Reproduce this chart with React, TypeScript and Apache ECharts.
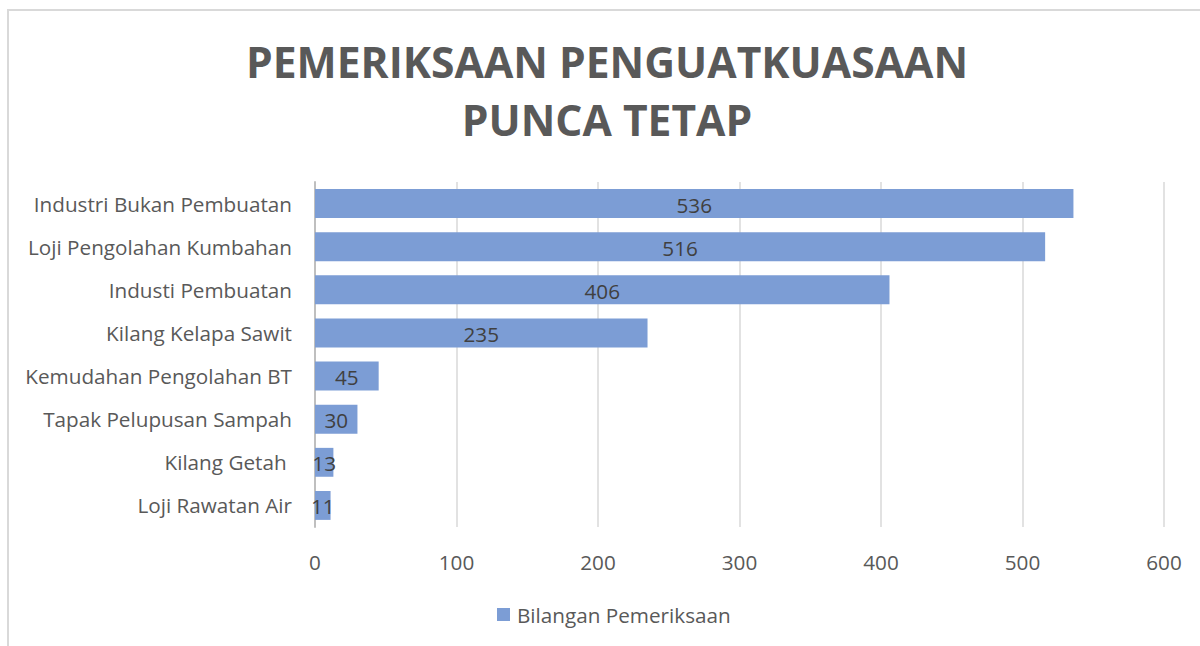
import React, { useEffect, useRef } from "react";
import * as echarts from "echarts";

const categories = [
  "Industri Bukan Pembuatan",
  "Loji Pengolahan Kumbahan",
  "Industi Pembuatan",
  "Kilang Kelapa Sawit",
  "Kemudahan Pengolahan BT",
  "Tapak Pelupusan Sampah",
  "Kilang Getah ",
  "Loji Rawatan Air",
];
const values = [536, 516, 406, 235, 45, 30, 13, 11];
const seriesName = "Bilangan Pemeriksaan";
const titleText = "PEMERIKSAAN PENGUATKUASAAN\nPUNCA TETAP";

const FONT = "'Open Sans', 'Noto Sans', sans-serif";

export default function App() {
  const ref = useRef<HTMLDivElement>(null);
  useEffect(() => {
    if (!ref.current) return;
    const chart = echarts.init(ref.current, null, { renderer: "svg" });
    chart.setOption({
      animation: false,
      backgroundColor: "#ffffff",
      title: {
        text: titleText,
        left: 602,
        textAlign: "center",
        top: 27,
        textStyle: {
          fontFamily: FONT,
          fontSize: 42.6,
          fontWeight: "bold",
          color: "#595959",
          lineHeight: 58,
        },
      },
      legend: {
        data: [seriesName],
        bottom: 16,
        left: 492,
        itemWidth: 13,
        itemHeight: 13,
        icon: "rect",
        itemGap: 8,
        textStyle: { fontFamily: FONT, fontSize: 20.7, color: "#595959", padding: [0, 0, 0, 2] },
      },
      graphic: [
        {
          type: "rect",
          shape: { x: 8, y: 10, width: 1300, height: 700 },
          style: { fill: "none", stroke: "#d9d9d9", lineWidth: 2 },
          silent: true,
        },
      ],
      grid: { left: 315, right: 36, top: 182, bottom: 119 },
      xAxis: {
        type: "value",
        min: 0,
        max: 600,
        interval: 100,
        axisLine: { show: false },
        axisTick: { show: false },
        splitLine: { lineStyle: { color: "#d9d9d9", width: 1.5 } },
        axisLabel: { fontFamily: FONT, fontSize: 20.7, color: "#595959", margin: 24 },
      },
      yAxis: {
        type: "category",
        data: categories,
        inverse: true,
        axisLine: { show: true, lineStyle: { color: "#bfbfbf", width: 2 } },
        axisTick: { show: false },
        axisLabel: { fontFamily: FONT, fontSize: 20.7, color: "#595959", margin: 23 },
      },
      series: [
        {
          name: seriesName,
          type: "bar",
          data: values,
          barCategoryGap: "33%",
          itemStyle: { color: "#7C9DD5" },
          label: {
            show: true,
            position: "inside",
            offset: [0, 1],
            fontFamily: FONT,
            fontSize: 20.7,
            color: "#404040",
          },
        },
      ],
    });
    return () => chart.dispose();
  }, []);
  return (
    <div
      ref={ref}
      style={{ position: "fixed", left: 0, top: 0, width: 1200, height: 646 }}
    />
  );
}
